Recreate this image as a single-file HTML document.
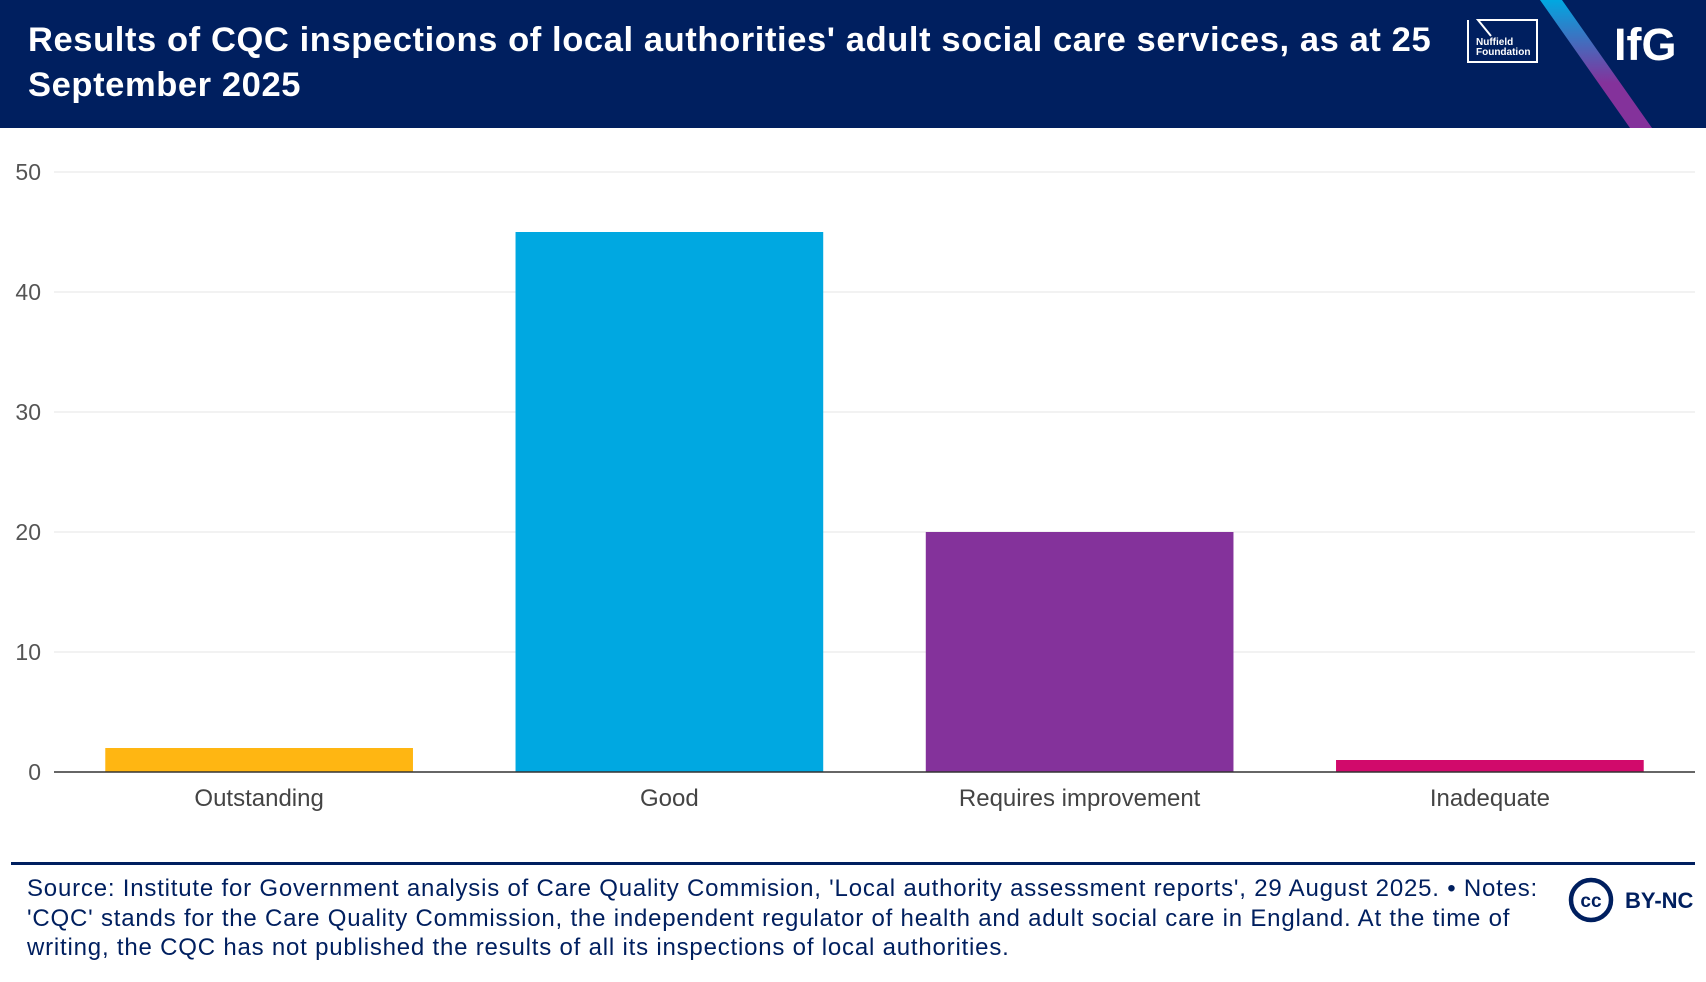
<!DOCTYPE html>
<html><head><meta charset="utf-8"><style>
body{margin:0;width:1706px;height:982px;background:#fff;font-family:"Liberation Sans",sans-serif;overflow:hidden;position:relative}
.hdr{position:absolute;left:0;top:0;width:1706px;height:128px;background:#001f5f;overflow:hidden}
.title{position:absolute;left:28px;top:18px;width:1440px;color:#fff;font-weight:bold;font-size:34.5px;letter-spacing:0.6px;line-height:45px;white-space:nowrap}
.foot{position:absolute;left:27px;top:874px;width:1560px;color:#001f5f;font-size:24px;letter-spacing:0.8px;line-height:29.5px;white-space:nowrap}
</style></head><body>
<div class="hdr">
<div class="title">Results of CQC inspections of local authorities' adult social care services, as at 25<br>September 2025</div>
<svg width="1706" height="128" style="position:absolute;left:0;top:0">
<defs><linearGradient id="g" x1="0" y1="0" x2="0" y2="1"><stop offset="0" stop-color="#00a8e1"/><stop offset="0.65" stop-color="#84329b"/><stop offset="1" stop-color="#84329b"/></linearGradient></defs>
<polygon points="1540,0 1562,0 1652,128 1630,128" fill="url(#g)"/>
<g>
<polyline points="1468,20 1468,62 1537,62 1537,20 1478,20 1491,36" fill="none" stroke="#fff" stroke-width="2"/>
<text x="1476" y="45" fill="#fff" font-size="10" font-weight="bold" font-family="Liberation Sans">Nuffield</text>
<text x="1476" y="55" fill="#fff" font-size="10" font-weight="bold" font-family="Liberation Sans">Foundation</text>
</g>
<text x="1614" y="60" fill="#fff" font-size="45" font-weight="bold" font-family="Liberation Sans">IfG</text>
</svg>
</div>
<svg id="chart" width="1706" height="860" style="position:absolute;left:0;top:0"></svg>
<div style="position:absolute;left:11px;top:862px;width:1684px;height:3px;background:#001f5f"></div>
<div class="foot">Source: Institute for Government analysis of Care Quality Commision, 'Local authority assessment reports', 29 August 2025. • Notes:<br>'CQC' stands for the Care Quality Commission, the independent regulator of health and adult social care in England. At the time of<br>writing, the CQC has not published the results of all its inspections of local authorities.</div>
<svg width="140" height="60" style="position:absolute;left:1560px;top:870px">
<circle cx="31" cy="30" r="20" fill="none" stroke="#001f5f" stroke-width="4.5"/>
<text x="31" y="37" text-anchor="middle" fill="#001f5f" font-size="19" font-weight="bold" font-family="Liberation Sans">cc</text>
<text x="65" y="38" fill="#001f5f" font-size="22" font-weight="bold" font-family="Liberation Sans">BY-NC</text>
</svg>
<script>
const categories=["Outstanding","Good","Requires improvement","Inadequate"];
const values=[2,45,20,1];
const colors=["#ffb612","#00a8e1","#84329b","#d10a6b"];
const ticks=[0,10,20,30,40,50];
const svg=document.getElementById('chart');const NS="http://www.w3.org/2000/svg";
const L=54,R=1695,T=172,B=772,yMax=50;
const y=v=>B-(v/yMax)*(B-T);
const band=(R-L)/categories.length,pad=0.125;
function mk(t,a){const e=document.createElementNS(NS,t);for(const k in a)e.setAttribute(k,a[k]);svg.appendChild(e);return e;}
ticks.forEach(t=>{
 const g=mk('line',{x1:L,x2:R,y1:y(t),y2:y(t),stroke:t===0?'#333':'#e6e6e6','stroke-width':t===0?1.5:1});
 
 
 const l=mk('text',{x:41,y:y(t)+8,'text-anchor':'end','font-size':23,fill:'#555','font-family':'Liberation Sans'});
 l.textContent=t;
 
 
});
categories.forEach((c,i)=>{
 const x0=L+band*i+band*pad,w=band*(1-2*pad);
 const r=mk('rect',{x:x0,y:y(values[i]),width:w,height:B-y(values[i]),fill:colors[i]});
 
 
 const l=mk('text',{x:L+band*(i+0.5),y:806,'text-anchor':'middle','font-size':24,fill:'#444','font-family':'Liberation Sans'});
 l.textContent=c;
 
 
});
svg.appendChild(svg.querySelector('line'));
</script>
</body></html>
